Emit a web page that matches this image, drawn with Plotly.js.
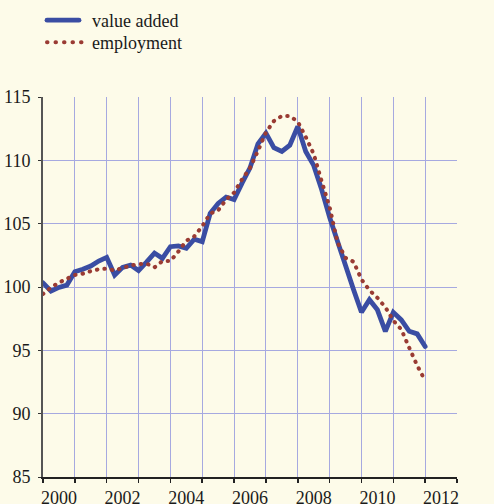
<!DOCTYPE html>
<html>
<head>
<meta charset="utf-8">
<script src="https://cdn.plot.ly/plotly-3.0.1.min.js"></script>
<style>
  html, body { margin: 0; padding: 0; background: #FDFBE9; }
  #chart { width: 494px; height: 504px; }
  .scatterlayer path.js-line { stroke-linecap: round !important; }
  .legend path.js-line { stroke-linecap: round !important; stroke-dasharray: 32px 200px !important; }
  .legend2 path.js-line { stroke-linecap: round !important; stroke-dasharray: 0.5px 8px 0.5px 8px 0.5px 8px 0.5px 8px 0.5px 200px !important; }
</style>
</head>
<body>
<div id="chart"></div>
<script>
// Quarterly index values, 2000 Q1 .. 2012 Q1
const startYear = 2000;
const seriesNames = ["value added", "employment"];
const valueAdded = [
  100.33, 99.67, 99.97, 100.15, 101.2, 101.4, 101.65, 102.05,
  102.34, 100.94, 101.55, 101.73, 101.3, 101.97, 102.68, 102.26,
  103.18, 103.24, 103.05, 103.77, 103.58, 105.82, 106.6, 107.1,
  106.9, 108.2, 109.4, 111.3, 112.15, 111.0, 110.7, 111.2,
  112.67, 110.7, 109.6, 107.7, 105.5, 103.6, 101.7, 99.8,
  98.0, 99.0, 98.2, 96.5, 98.0, 97.4, 96.5, 96.3,
  95.3
];
const employment = [
  99.45, 99.95, 100.35, 100.65, 100.95, 101.05, 101.25, 101.4,
  101.45, 101.3, 101.5, 101.7, 101.8, 101.85, 101.55, 102.05,
  102.05, 102.8, 103.65, 104.0, 104.8, 105.8, 106.05, 106.9,
  107.45, 108.5, 109.4, 110.75, 112.2, 113.1, 113.5, 113.5,
  113.05, 111.85, 110.5, 108.35, 106.3, 103.5, 102.3, 102.0,
  100.6, 99.75, 99.15, 98.4, 97.35, 96.65, 95.2, 93.8,
  92.6
];
const xTickLabels = ["2000", "2002", "2004", "2006", "2008", "2010", "2012"];
const yTicks = [85, 90, 95, 100, 105, 110, 115];

const quarterTimes = valueAdded.map((_, i) => startYear + i / 4);
const xTickPositions = xTickLabels.map(l => Number(l) + 0.5);

const fontFamily = "Liberation Serif";
const bg = "#FDFBE9";
const gridColor = "#A6A9E0";
const textColor = "#1a1a1a";

const traces = [
  {
    x: quarterTimes, y: valueAdded, name: seriesNames[0],
    type: "scatter", mode: "lines",
    line: { color: "#3A4DA3", width: 4.8, simplify: false },
    legend: "legend",
    hoverinfo: "skip"
  },
  {
    x: quarterTimes, y: employment, name: seriesNames[1],
    type: "scatter", mode: "lines",
    line: { color: "#9A3B33", width: 4, dash: "0.5px,7px", simplify: false },
    legend: "legend2",
    hoverinfo: "skip"
  }
];

const legendBase = {
  xref: "container", yref: "container",
  xanchor: "left", yanchor: "top",
  bgcolor: "rgba(0,0,0,0)",
  itemwidth: 40,
  font: { family: fontFamily, size: 18, color: textColor }
};

const layout = {
  width: 494, height: 504,
  margin: { l: 43, r: 37, t: 97, b: 27, pad: 0, autoexpand: false },
  paper_bgcolor: bg, plot_bgcolor: bg,
  font: { family: fontFamily, size: 18, color: textColor },
  showlegend: true,
  legend: Object.assign({}, legendBase, { x: 42 / 494, y: 1 - 2 / 504 }),
  legend2: Object.assign({}, legendBase, { x: 42 / 494, y: 1 - 24 / 504 }),
  xaxis: {
    range: [2000, 2013],
    tickmode: "array", tickvals: xTickPositions, ticktext: xTickLabels,
    ticks: "", showgrid: false, zeroline: false,
    showline: true, linecolor: "#222", linewidth: 1.5,
    ticklabelstandoff: 4,
    minor: {
      tick0: 2000, dtick: 1,
      showgrid: true, gridcolor: gridColor, gridwidth: 1,
      ticks: "outside", ticklen: 4, tickcolor: "#222", tickwidth: 1.5
    },
    fixedrange: true
  },
  yaxis: {
    range: [85, 115],
    tickmode: "array", tickvals: yTicks,
    ticks: "outside", ticklen: 3, tickcolor: "#333",
    showgrid: true, gridcolor: gridColor, gridwidth: 1,
    zeroline: false,
    showline: true, linecolor: "#555", linewidth: 2,
    ticklabelstandoff: 4,
    fixedrange: true
  },
  yaxis2: {
    overlaying: "y", side: "right",
    range: [85, 115],
    tickmode: "array", tickvals: yTicks,
    ticks: "outside", ticklen: 2, tickcolor: "#222",
    showgrid: false, zeroline: false,
    showline: true, linecolor: "#222", linewidth: 1.5,
    ticklabelstandoff: 4,
    fixedrange: true
  }
};

Plotly.newPlot("chart", traces, layout, { displayModeBar: false, staticPlot: true });
</script>
</body>
</html>
